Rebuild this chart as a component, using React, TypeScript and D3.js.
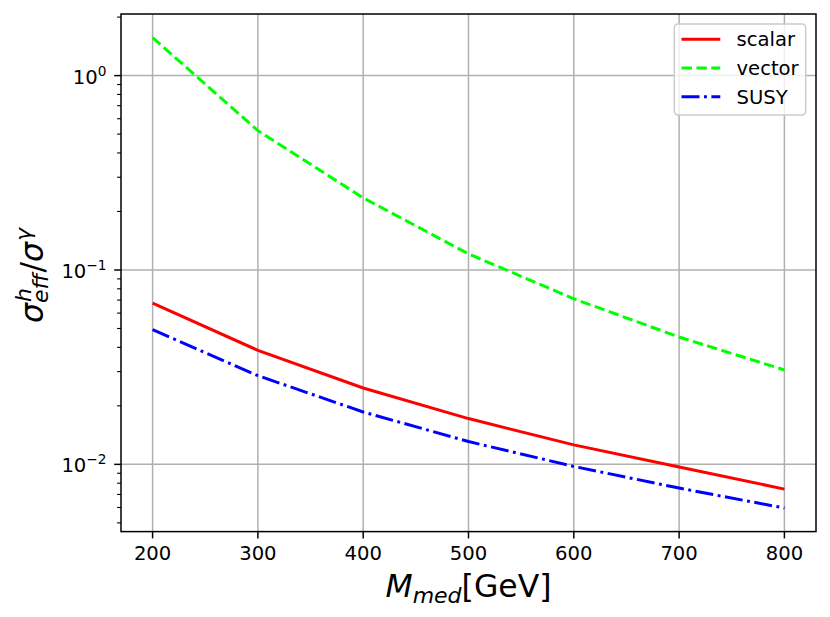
import React, { useEffect, useRef } from 'react';
import * as d3 from 'd3';

// mediator masses [GeV]
const masses = [200, 300, 400, 500, 600, 700, 800];
// sigma_eff^h / sigma^gamma for each model
const scalarVals = [0.0676, 0.0386, 0.0247, 0.0172, 0.0126, 0.0097, 0.00746];
const vectorVals = [1.57, 0.521, 0.235, 0.121, 0.0711, 0.0452, 0.0306];
const susyVals = [0.0493, 0.0286, 0.0186, 0.0131, 0.00976, 0.00755, 0.00596];

const xTicks = [200, 300, 400, 500, 600, 700, 800];
const yTickExps = [-2, -1, 0];

const seriesList = [
  { name: 'scalar', values: scalarVals, color: '#ff0000', dash: null as string | null },
  { name: 'vector', values: vectorVals, color: '#00ff00', dash: '10.4,4.5' },
  { name: 'SUSY', values: susyVals, color: '#0000ff', dash: '18,4.5,2.9,4.5' },
];

const W = 830;
const H = 617;
const FONT = '"DejaVu Sans", sans-serif';

const App: React.FC = () => {
  const ref = useRef<SVGSVGElement>(null);

  useEffect(() => {
    document.body.style.margin = '0';
    if (!ref.current) return;
    const svg = d3.select(ref.current);
    svg.selectAll('*').remove();

    const left = 121, right = 816, top = 14, bottom = 531.6;

    const x = d3.scaleLinear().domain([170, 830]).range([left, right]);
    const y = d3.scaleLog().domain([0.004509, 2.0747]).range([bottom, top]);

    svg.append('rect').attr('width', W).attr('height', H).attr('fill', 'white');

    // grid
    const grid = svg.append('g').attr('stroke', '#b0b0b0').attr('stroke-width', 1.5);
    xTicks.forEach((t) => {
      grid.append('line')
        .attr('x1', x(t)).attr('x2', x(t))
        .attr('y1', top).attr('y2', bottom);
    });
    yTickExps.forEach((e) => {
      grid.append('line')
        .attr('x1', left).attr('x2', right)
        .attr('y1', y(Math.pow(10, e))).attr('y2', y(Math.pow(10, e)));
    });

    // lines
    const line = d3.line<number>()
      .x((_, i) => x(masses[i]))
      .y((v) => y(v));

    const plot = svg.append('g');
    seriesList.forEach((s) => {
      plot.append('path')
        .attr('d', line(s.values))
        .attr('fill', 'none')
        .attr('stroke', s.color)
        .attr('stroke-width', 3)
        .attr('stroke-dasharray', s.dash)
        .attr('stroke-linecap', 'butt');
    });

    // frame
    svg.append('rect')
      .attr('x', left).attr('y', top)
      .attr('width', right - left).attr('height', bottom - top)
      .attr('fill', 'none').attr('stroke', 'black').attr('stroke-width', 1.5);

    // x ticks
    const xAxis = svg.append('g');
    xTicks.forEach((t) => {
      xAxis.append('line')
        .attr('x1', x(t)).attr('x2', x(t))
        .attr('y1', bottom).attr('y2', bottom + 6.8)
        .attr('stroke', 'black').attr('stroke-width', 1.5);
      xAxis.append('text')
        .attr('x', x(t)).attr('y', bottom + 28.8)
        .attr('text-anchor', 'middle')
        .style('font-family', FONT).style('font-size', '19.6px')
        .text(String(t));
    });

    // y ticks (major + minor)
    const yAxis = svg.append('g');
    const [yMin, yMax] = y.domain();
    for (let e = -3; e <= 0; e++) {
      for (let m = 1; m <= 9; m++) {
        const v = m * Math.pow(10, e);
        if (v < yMin || v > yMax) continue;
        const major = m === 1;
        yAxis.append('line')
          .attr('x1', left - (major ? 6.8 : 3.9)).attr('x2', left)
          .attr('y1', y(v)).attr('y2', y(v))
          .attr('stroke', 'black').attr('stroke-width', major ? 1.5 : 1.1);
      }
    }
    yTickExps.forEach((e) => {
      const ty = y(Math.pow(10, e));
      const txt = yAxis.append('text')
        .attr('x', left - 14.5).attr('y', ty + 8)
        .attr('text-anchor', 'end')
        .style('font-family', FONT).style('font-size', '19.6px');
      txt.append('tspan').text('10');
      txt.append('tspan')
        .attr('dy', -8).style('font-size', '13.7px')
        .text(e < 0 ? `\u2212${Math.abs(e)}` : String(e));
    });

    // x label
    const xl = svg.append('text')
      .attr('x', (left + right) / 2).attr('y', 597)
      .attr('text-anchor', 'middle')
      .style('font-family', FONT).style('font-size', '31.5px');
    xl.append('tspan').style('font-style', 'italic').text('M');
    xl.append('tspan').attr('dy', 6).style('font-style', 'italic').style('font-size', '22px').text('med');
    xl.append('tspan').attr('dy', -6).text('[GeV]');

    // y label, built piece by piece in a rotated group
    const yl = svg.append('g');
    const inner = yl.append('g');
    const piece = (s: string, px: number, dy: number, size: number, italic: boolean) => {
      const t = inner.append('text')
        .attr('x', px).attr('y', dy)
        .style('font-family', FONT)
        .style('font-size', `${size}px`)
        .style('font-style', italic ? 'italic' : 'normal')
        .text(s);
      return (t.node() as SVGTextElement).getComputedTextLength();
    };
    let cx = 0;
    cx += piece('\u03c3', cx, 0, 31.5, true);
    const wh = piece('h', cx + 1, -12, 22, true);
    const we = piece('eff', cx, 5, 22, true);
    cx += Math.max(wh + 1, we) + 1;
    cx += piece('/', cx, 0, 31.5, false);
    cx += piece('\u03c3', cx, 0, 31.5, true);
    cx += piece('\u03b3', cx + 1, -12, 22, true);
    inner.attr('transform', `translate(${-cx / 2},0)`);
    yl.attr('transform', `translate(43,276) rotate(-90)`);

    // legend
    const lg = svg.append('g');
    lg.append('rect')
      .attr('x', 674.3).attr('y', 24)
      .attr('width', 131.4).attr('height', 91)
      .attr('rx', 3.9)
      .attr('fill', 'white').attr('fill-opacity', 0.8)
      .attr('stroke', '#cccccc').attr('stroke-width', 1.5);
    seriesList.forEach((s, i) => {
      const ly = 39.3 + i * 28.7;
      lg.append('line')
        .attr('x1', 681.5).attr('x2', 720.3)
        .attr('y1', ly).attr('y2', ly)
        .attr('stroke', s.color).attr('stroke-width', 3)
        .attr('stroke-dasharray', s.dash);
      lg.append('text')
        .attr('x', 736.5).attr('y', ly + 7)
        .style('font-family', FONT).style('font-size', '19.6px')
        .text(s.name);
    });
  }, []);

  return <svg ref={ref} width={W} height={H} style={{ display: 'block' }} />;
};

export default App;
